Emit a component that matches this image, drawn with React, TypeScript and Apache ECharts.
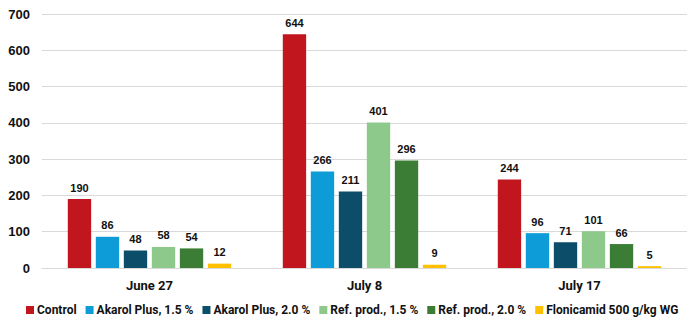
import React, { useEffect, useRef } from "react";
import * as echarts from "echarts";

const categories = ["June 27", "July 8", "July 17"];
const seriesNames = [
  "Control",
  "Akarol Plus, 1.5 %",
  "Akarol Plus, 2.0 %",
  "Ref. prod., 1.5 %",
  "Ref. prod., 2.0 %",
  "Flonicamid 500 g/kg WG",
];
const control = [190, 644, 244];
const akarol15 = [86, 266, 96];
const akarol20 = [48, 211, 71];
const ref15 = [58, 401, 101];
const ref20 = [54, 296, 66];
const flonicamid = [12, 9, 5];
const yTicks = [0, 100, 200, 300, 400, 500, 600, 700];

const colors = ["#C1161D", "#0E9CD8", "#0C4E6A", "#8DC98B", "#3B7D34", "#FFC000"];
const narrow = "Roboto, 'Liberation Sans', Arial, sans-serif";
const regular = "'Liberation Sans', Arial, sans-serif";

export default function App() {
  const ref = useRef<HTMLDivElement>(null);
  useEffect(() => {
    if (!ref.current) return;
    const chart = echarts.init(ref.current, null, { renderer: "svg" });
    const values = [control, akarol15, akarol20, ref15, ref20, flonicamid];
    chart.setOption({
      animation: false,
      grid: { left: 42, right: -2, top: 14, bottom: 54, containLabel: false },
      legend: {
        bottom: 6,
        left: 26,
        padding: 0,
        itemWidth: 8,
        itemHeight: 8,
        itemGap: 9,
        icon: "rect",
        textStyle: { fontFamily: narrow, fontWeight: "bold", fontSize: 12, color: "#111", padding: [0, 0, 0, -2] },
        data: seriesNames,
      },
      xAxis: {
        type: "category",
        data: categories,
        axisTick: { show: false },
        axisLine: { lineStyle: { color: "#d9d9d9" } },
        axisLabel: { fontFamily: narrow, fontWeight: "bold", fontSize: 13, color: "#111", margin: 11 },
      },
      yAxis: {
        type: "value",
        min: yTicks[0],
        max: yTicks[yTicks.length - 1],
        interval: 100,
        splitLine: { lineStyle: { color: "#d9d9d9" } },
        axisLabel: { fontFamily: regular, fontWeight: "bold", fontSize: 13, color: "#111", margin: 12 },
      },
      series: seriesNames.map((name, i) => ({
        name,
        type: "bar",
        data: values[i],
        barGap: "20%",
        barCategoryGap: "24%",
        itemStyle: { color: colors[i] },
        label: {
          show: true,
          position: "top",
          distance: 6,
          fontFamily: regular,
          fontWeight: "bold",
          fontSize: 11,
          color: "#111",
        },
      })),
    });
    return () => chart.dispose();
  }, []);
  return (
    <div
      ref={ref}
      style={{ position: "fixed", left: 0, top: 0, width: 687, height: 322, background: "#fff" }}
    />
  );
}
